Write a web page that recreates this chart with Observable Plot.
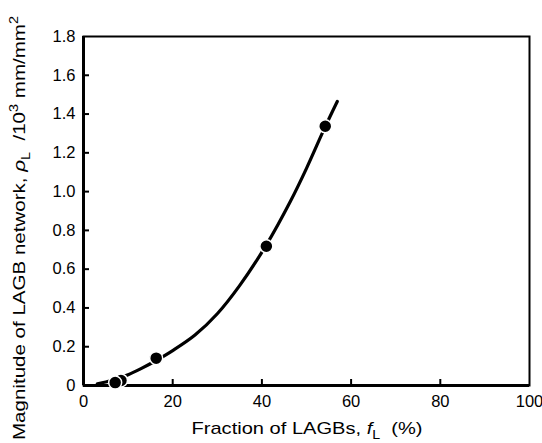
<!DOCTYPE html>
<html>
<head>
<meta charset="utf-8">
<script src="https://cdn.jsdelivr.net/npm/d3@7"></script>
<script src="https://cdn.jsdelivr.net/npm/@observablehq/plot@0.6"></script>
<style>
  html, body { margin: 0; padding: 0; background: #fff; }
  #chart svg { display: block; }
</style>
</head>
<body>
<div id="chart"></div>
<script>
// Measured points (drawn in this order so the 7% point overlaps the 8.4% one)
const fractionPct = [8.4, 7.1, 16.3, 41.0, 54.2];
const rhoL = [0.026, 0.015, 0.141, 0.718, 1.337];

// Fitted curve
const fitFraction = [3.1, 5, 8, 10, 13, 16, 20, 25, 30, 35, 41, 46.4, 50, 54.2, 56.9];
const fitRho = [0.009, 0.018, 0.038, 0.055, 0.088, 0.125, 0.18, 0.26, 0.37, 0.515, 0.725, 0.95, 1.12, 1.335, 1.465];

const xTicks = [0, 20, 40, 60, 80, 100];
const yTicks = [0, 0.2, 0.4, 0.6, 0.8, 1.0, 1.2, 1.4, 1.6, 1.8];

const points = fractionPct.map((x, i) => ({x, y: rhoL[i]}));
const fit = fitFraction.map((x, i) => ({x, y: fitRho[i]}));

const font = "'Liberation Sans', Arial, Helvetica, sans-serif";

const chart = Plot.plot({
  width: 542,
  height: 443,
  marginLeft: 83,
  marginRight: 13,
  marginTop: 36,
  marginBottom: 58,
  style: {fontFamily: font, fontSize: "16.5px", color: "#000", background: "#fff"},
  x: {domain: [0, 100]},
  y: {domain: [0, 1.8]},
  marks: [
    Plot.axisX(xTicks, {tickSize: 0, tickPadding: 10, label: null, fontSize: 16.5}),
    Plot.axisX(xTicks.slice(1, -1), {tickSize: -6, text: null, label: null, strokeWidth: 2}),
    Plot.axisY(yTicks, {tickSize: 0, tickPadding: 8, label: null, fontSize: 16.5,
      tickFormat: d => d === 0 ? "0" : d.toFixed(1)}),
    Plot.axisY(yTicks.slice(1, -1), {tickSize: -6, text: null, label: null, strokeWidth: 2}),
    Plot.frame({stroke: "#000", strokeWidth: 2}),
    Plot.ruleX([0], {stroke: "#000", strokeWidth: 3}),
    Plot.ruleY([0], {stroke: "#000", strokeWidth: 3}),
    Plot.line(fit, {x: "x", y: "y", curve: "catmull-rom", stroke: "#000", strokeWidth: 3.2}),
    Plot.dot(points, {x: "x", y: "y", r: 6.5, fill: "#000", stroke: "#fff", strokeWidth: 1.5})
  ]
});

document.getElementById("chart").appendChild(chart);

const svg = d3.select(chart);

// Y axis title with rich text
const yt = svg.append("text")
  .attr("transform", "translate(25,228) rotate(-90)")
  .attr("text-anchor", "middle")
  .attr("textLength", 424)
  .attr("lengthAdjust", "spacingAndGlyphs")
  .attr("font-family", font)
  .attr("font-size", 17)
  .attr("fill", "#000");
yt.append("tspan").text("Magnitude of LAGB network, ");
yt.append("tspan").attr("font-style", "italic").text("ρ");
yt.append("tspan").attr("font-size", 12).attr("dy", 5).text("L");
yt.append("tspan").attr("dy", -5).text("\u00a0\u00a0/10");
yt.append("tspan").attr("font-size", 12).attr("dy", -7).text("3");
yt.append("tspan").attr("dy", 7).text(" mm/mm");
yt.append("tspan").attr("font-size", 12).attr("dy", -7).text("2");

// X axis title with rich text
const xt = svg.append("text")
  .attr("x", 307)
  .attr("y", 434)
  .attr("text-anchor", "middle")
  .attr("textLength", 231)
  .attr("lengthAdjust", "spacingAndGlyphs")
  .attr("font-family", font)
  .attr("font-size", 17)
  .attr("fill", "#000");
xt.append("tspan").text("Fraction of LAGBs, ");
xt.append("tspan").attr("font-style", "italic").text("f");
xt.append("tspan").attr("font-size", 12).attr("dy", 5).text("L");
xt.append("tspan").attr("dy", -5).text("\u00a0\u00a0(%)");
</script>
</body>
</html>
